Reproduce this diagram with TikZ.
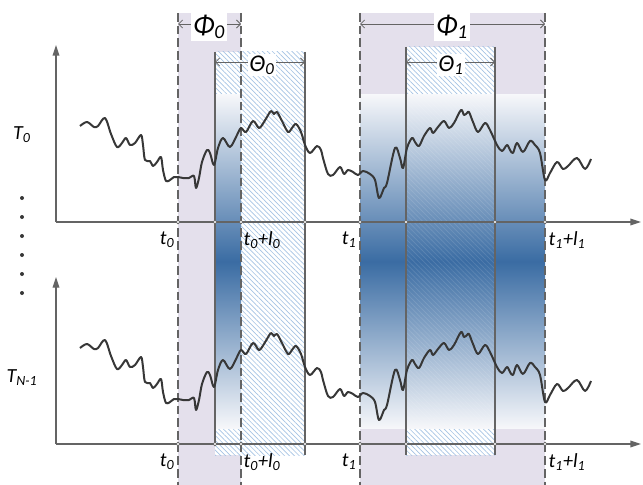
\documentclass[tikz,border=0pt]{standalone}
\usepackage{fontspec}
\setmainfont{Carlito}
\usetikzlibrary{arrows.meta, patterns.meta}

\definecolor{phiband}{RGB}{228,224,236}
\definecolor{hatchblue}{RGB}{165,195,228}
\definecolor{shadeblue}{RGB}{58,108,163}
\definecolor{shadelight}{RGB}{246,247,250}
\definecolor{axisgray}{RGB}{100,100,100}
\definecolor{wavegray}{RGB}{55,55,55}

% one trace of the signal, in pixel units
\newcommand{\wavepath}{plot[smooth, tension=0.55] coordinates {
  (80,126) (87,122) (94,127) (98,126) (105,118) (111,134) (117,147) (122,143)
  (126,138) (130,145) (135,143) (141,135) (143,145) (145,160) (150,161) (153,166)
  (157,162) (161,157) (163,170) (166,181) (170,180) (174,177) (178,177) (183,178)
  (189,178) (194,176) (196,188) (199,178) (202,162) (207,150) (210,153) (214,165)
  (218,148) (223,138) (230,147) (237,135) (241,128) (246,132) (253,121) (259,128)
  (264,122) (267,117) (271,111) (274,114) (277,112) (282,121) (288,132) (292,128)
  (296,124) (301,132) (305,145) (310,153) (317,146) (321,150) (323,158) (328,174)
  (333,175) (340,167) (344,174) (348,170) (353,172) (358,175) (363,171) (370,174)
  (375,180) (379,198) (384,188) (387,183) (395,148) (400,158) (403,168) (407,148)
  (412,138) (415,142) (419,146) (424,136) (430,128) (433,133) (438,127) (444,121)
  (449,128) (454,123) (461,110) (464,115) (467,113) (469,112) (473,122) (478,132)
  (485,123) (490,130) (497,145) (502,151) (507,145) (510,150) (513,153) (517,143)
  (523,152) (530,141) (535,145) (540,153) (545,180) (550,173) (557,162) (563,169)
  (568,166) (577,158) (585,169) (591,159)}}

\begin{document}
\begin{tikzpicture}[x=0.75pt, y=-0.75pt,
  band/.style={fill=phiband, draw=none},
  hatch/.style={preaction={fill=white}, pattern={Lines[angle=-45, distance=2.6pt, line width=0.5pt]}, pattern color=hatchblue},
  shadebox/.style={top color=shadelight, bottom color=shadelight, middle color=shadeblue, draw=none},
  philine/.style={draw=axisgray, dash pattern=on 6.5pt off 3pt, line width=0.9pt},
  thetaline/.style={draw=axisgray, line width=0.8pt},
  dimarr/.style={{Straight Barb[length=3pt, width=6pt]}-{Straight Barb[length=3pt, width=6pt]}, draw=axisgray, line width=0.6pt},
  axis/.style={-{Triangle[length=8pt, width=5pt]}, draw=axisgray, line width=1pt},
  axtick/.style={draw=axisgray, fill=white, line width=0.5pt},
  wave/.style={draw=wavegray, line width=1.5pt, line join=round},
  tlab/.style={font=\fontsize{15}{17}\selectfont\itshape, inner sep=1pt},
  philab/.style={font=\fontsize{21}{23}\selectfont\itshape, fill=white, inner sep=1.5pt},
  thetalab/.style={font=\fontsize{18}{20}\selectfont\itshape, fill=white, inner sep=1pt},
]
  \useasboundingbox (0,0) rectangle (643,485);

  % Phi bands
  \fill[band] (178,13) rectangle (241,485);
  \fill[band] (360,13) rectangle (545,485);

  % Theta windows
  \path[hatch] (215,52) rectangle (305,455);
  \path[hatch] (406,47) rectangle (495,455);

  % shaded parts
  \path[shadebox] (215,95) rectangle (241,428);
  \path[shadebox] (360,95) rectangle (545,428);
  \path[pattern={Lines[angle=-45, distance=2.6pt, line width=0.5pt]}, pattern color=white, opacity=0.12] (406,95) rectangle (495,428);

  % window borders
  \draw[thetaline] (215,52) -- (215,444);
  \draw[thetaline] (305,52) -- (305,455);
  \draw[thetaline] (406,47) -- (406,455);
  \draw[thetaline] (495,47) -- (495,455);
  \foreach \xx in {178,241,360,545}
    \draw[philine] (\xx,13) -- (\xx,485);

  % axes
  \coordinate (o0) at (56,222);
  \coordinate (y0) at (56,45);
  \coordinate (x0) at (641,222);
  \coordinate (o1) at (56,444);
  \coordinate (y1) at (56,277);
  \coordinate (x1) at (641,444);
  \draw[axis] (o0) -- (y0);
  \draw[axis] (o0) -- (x0);
  \draw[axis] (o1) -- (y1);
  \draw[axis] (o1) -- (x1);
  \foreach \xx in {178,215,241,305,360,406,495,545} {
    \draw[axtick] (\xx,222) circle (1.4pt);
    \draw[axtick] (\xx,444) circle (1.4pt);
  }

  % signals
  \draw[wave] \wavepath;
  \begin{scope}[shift={(0,222)}]
    \draw[wave] \wavepath;
  \end{scope}

  % series labels
  \node[tlab] (T0) at (22,135) {T\textsubscript{0}};
  \node[tlab] (TN) at (22,378) {T\textsubscript{N-1}};
  \foreach \yy in {198,217,...,293}
    \fill[wavegray] (22,\yy) circle (1.5pt);

  % time labels
  \node[tlab, anchor=east] (ta0) at (176,240) {t\textsubscript{0}};
  \node[tlab, anchor=west] (tb0) at (242,240) {t\textsubscript{0}+l\textsubscript{0}};
  \node[tlab, anchor=east] (tc0) at (358,240) {t\textsubscript{1}};
  \node[tlab, anchor=west] (td0) at (547,240) {t\textsubscript{1}+l\textsubscript{1}};
  \node[tlab, anchor=east] (ta1) at (176,462) {t\textsubscript{0}};
  \node[tlab, anchor=west] (tb1) at (242,462) {t\textsubscript{0}+l\textsubscript{0}};
  \node[tlab, anchor=east] (tc1) at (358,462) {t\textsubscript{1}};
  \node[tlab, anchor=west] (td1) at (547,462) {t\textsubscript{1}+l\textsubscript{1}};

  % widths
  \coordinate (phi0l) at (178,24);
  \coordinate (phi0r) at (241,24);
  \coordinate (th0l) at (215,62);
  \coordinate (th0r) at (305,62);
  \coordinate (phi1l) at (360,24);
  \coordinate (phi1r) at (545,24);
  \coordinate (th1l) at (406,62);
  \coordinate (th1r) at (495,62);
  \draw[dimarr] (phi0l) -- (phi0r);
  \draw[dimarr] (th0l) -- (th0r);
  \draw[dimarr] (phi1l) -- (phi1r);
  \draw[dimarr] (th1l) -- (th1r);
  \node[philab] (phi0) at (209,27) {Φ\textsubscript{0}};
  \node[thetalab] (th0) at (262,65) {Θ\textsubscript{0}};
  \node[philab] (phi1) at (452,27) {Φ\textsubscript{1}};
  \node[thetalab] (th1) at (451,65) {Θ\textsubscript{1}};
\end{tikzpicture}
\end{document}
